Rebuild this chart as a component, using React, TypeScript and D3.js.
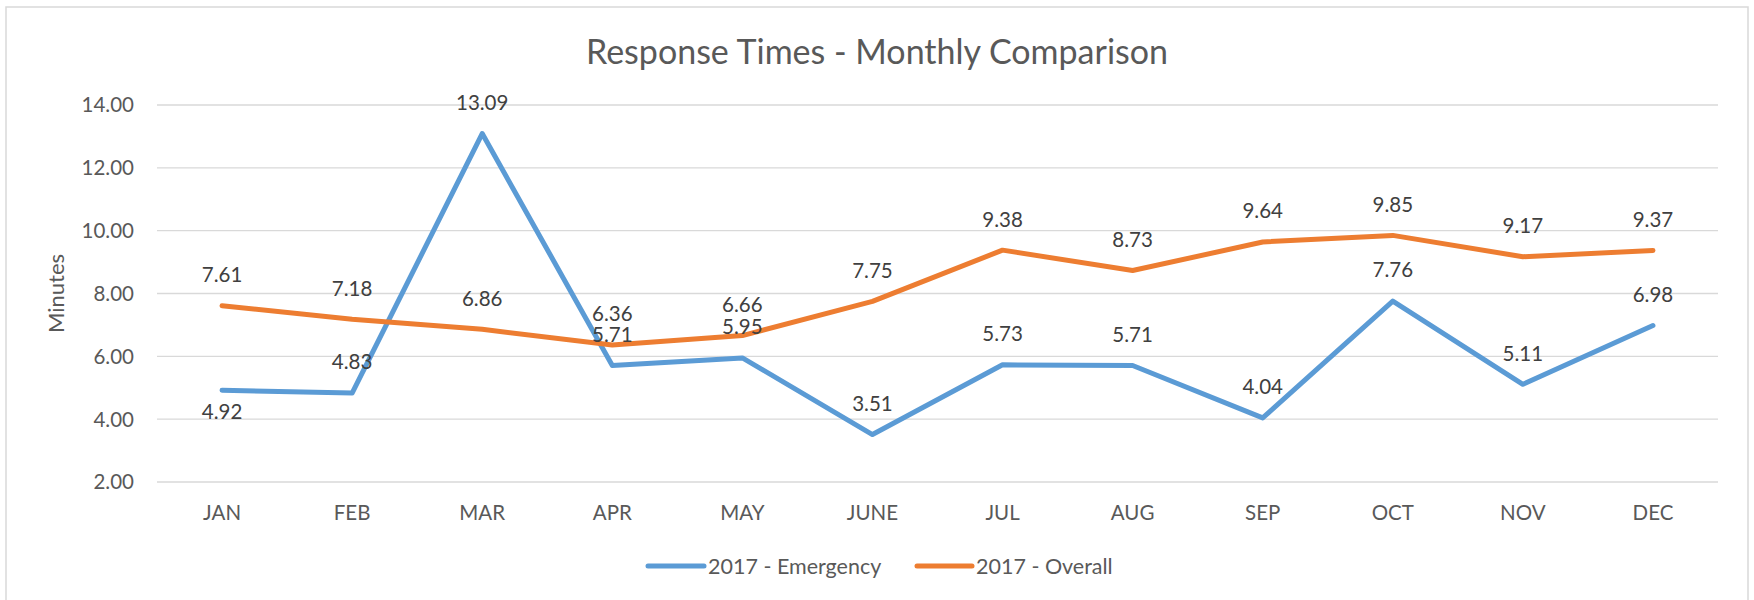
import React from "react";
import * as d3 from "d3";

const months = ["JAN", "FEB", "MAR", "APR", "MAY", "JUNE", "JUL", "AUG", "SEP", "OCT", "NOV", "DEC"];
const emergency = [4.92, 4.83, 13.09, 5.71, 5.95, 3.51, 5.73, 5.71, 4.04, 7.76, 5.11, 6.98];
const overall = [7.61, 7.18, 6.86, 6.36, 6.66, 7.75, 9.38, 8.73, 9.64, 9.85, 9.17, 9.37];
const emergencyLabelBelow = [true, false, false, false, false, false, false, false, false, false, false, false];
const yTicks = [2, 4, 6, 8, 10, 12, 14];
const seriesNames = ["2017 - Emergency", "2017 - Overall"];
const colors = ["#5B9BD5", "#ED7D31"];

const W = 1754;
const H = 600;
const FONT = "Lato, 'Open Sans', sans-serif";

export default function App() {
  const x = d3.scaleBand<string>().domain(months).range([157, 1718]);
  const y = d3.scaleLinear().domain([2, 14]).range([482, 105]);
  const cx = (m: string) => (x(m) as number) + x.bandwidth() / 2;
  const line = d3
    .line<number>()
    .x((_, i) => cx(months[i]))
    .y((d) => y(d));

  const series = [
    { name: seriesNames[0], values: emergency, color: colors[0], below: emergencyLabelBelow },
    { name: seriesNames[1], values: overall, color: colors[1], below: months.map(() => false) },
  ];

  const legend = [
    { x1: 648, x2: 704, tx: 708 },
    { x1: 917, x2: 972, tx: 976 },
  ];

  return (
    <svg
      width={W}
      height={H}
      style={{ position: "absolute", left: 0, top: 0, background: "#fff" }}
      fontFamily={FONT}
    >
      <rect x={6} y={7} width={1742} height={620} fill="#fff" stroke="#D9D9D9" strokeWidth={1.5} />
      <text x={877} y={64} textAnchor="middle" fontSize={34} fill="#595959">
        Response Times - Monthly Comparison
      </text>
      {yTicks.map((t) => (
        <g key={t}>
          <line x1={157} x2={1718} y1={y(t)} y2={y(t)} stroke="#D9D9D9" strokeWidth={1.4} />
          <text x={134} y={y(t)} dy="0.36em" textAnchor="end" fontSize={20.5} fill="#595959">
            {t.toFixed(2)}
          </text>
        </g>
      ))}
      <text
        transform={`translate(56,${(y(2) + y(14)) / 2}) rotate(-90)`}
        textAnchor="middle"
        dy="0.36em"
        fontSize={22}
        fill="#595959"
      >
        Minutes
      </text>
      {months.map((m) => (
        <text key={m} x={cx(m)} y={513} dy="0.36em" textAnchor="middle" fontSize={20.5} fill="#595959">
          {m}
        </text>
      ))}
      {series.map((s) => (
        <path
          key={s.name}
          d={line(s.values) || ""}
          fill="none"
          stroke={s.color}
          strokeWidth={5}
          strokeLinecap="round"
          strokeLinejoin="round"
        />
      ))}
      {series.map((s) =>
        s.values.map((v, i) => (
          <text
            key={s.name + i}
            x={cx(months[i])}
            y={y(v) + (s.below[i] ? 21 : -31)}
            dy="0.36em"
            textAnchor="middle"
            fontSize={20.5}
            fill="#404040"
          >
            {v.toFixed(2)}
          </text>
        ))
      )}
      {series.map((s, i) => (
        <g key={"lg" + i}>
          <line
            x1={legend[i].x1}
            x2={legend[i].x2}
            y1={566}
            y2={566}
            stroke={s.color}
            strokeWidth={5}
            strokeLinecap="round"
          />
          <text x={legend[i].tx} y={566} dy="0.36em" fontSize={21.5} fill="#595959">
            {s.name}
          </text>
        </g>
      ))}
    </svg>
  );
}
